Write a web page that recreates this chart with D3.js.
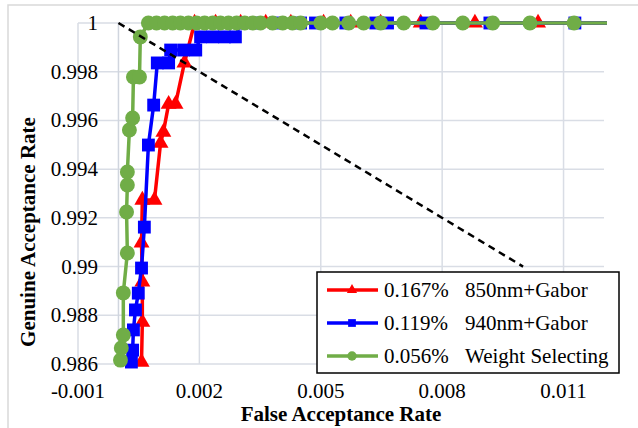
<html>
<head>
  <script src="https://d3js.org/d3.v7.min.js"></script>
  <meta charset="utf-8">
  <title>ROC</title>
<style>
body { margin: 0; background: #fff; }
svg { background: #fff; }
text { font-family: 'Liberation Serif', 'Times New Roman', Times, serif; }
</style>
</head>
<body>
<script>
var width = 638;
var height = 428;

// x ticks / y ticks
var xTicks = [-0.001, 0.002, 0.005, 0.008, 0.011];
var xTickLabels = ['-0.001', '0.002', '0.005', '0.008', '0.011'];
var yTicks = [0.986, 0.988, 0.99, 0.992, 0.994, 0.996, 0.998, 1];
var yTickLabels = ['0.986', '0.988', '0.99', '0.992', '0.994', '0.996', '0.998', '1'];

// 850nm+Gabor
var redFAR = [0.00057, 0.00059, 0.00059, 0.00057, 0.00059, 0.00089, 0.00104, 0.00111, 0.00124, 0.00141, 0.00163,
  0.00188, 0.0024, 0.00302, 0.00364, 0.00426, 0.00507, 0.00574, 0.00648, 0.00747, 0.00881, 0.01037, 1];
var redGAR = [0.98608, 0.98772, 0.98937, 0.99097, 0.99273, 0.99273, 0.99507, 0.99552, 0.99667, 0.99667, 0.99836,
  1, 1, 1, 1, 1, 1, 1, 1, 1, 1, 1, 1];

// 940nm+Gabor
var blueFAR = [0.00032, 0.00035, 0.00037, 0.00042, 0.00049, 0.00057, 0.00064, 0.00074, 0.00087, 0.00096, 0.00124,
  0.00129, 0.00161, 0.00191, 0.00203, 0.00233, 0.00262, 0.00289, 0.00302, 0.00339, 0.00388, 0.0045, 0.00487,
  0.00562, 0.00636, 0.00665, 0.0076, 0.00918, 0.01128, 1];
var blueGAR = [0.98608, 0.98657, 0.9874, 0.98822, 0.98891, 0.98994, 0.99162, 0.99499, 0.99663, 0.99836, 0.99836,
  0.99889, 0.99889, 0.99889, 0.99943, 0.99943, 0.99943, 0.99943, 1, 1, 1, 1, 1,
  1, 1, 1, 1, 1, 1, 1];

// Weight Selecting
var greenFAR = [0.00005, 0.00007, 0.00012, 0.00012, 0.00022, 0.0002, 0.00022, 0.00022, 0.00027, 0.00035, 0.00037,
  0.00052, 0.00054, 0.00074, 0.00094, 0.00114, 0.00134, 0.00153, 0.00173, 0.00193, 0.00213, 0.00233, 0.00252,
  0.00272, 0.00292, 0.00312, 0.00332, 0.00351, 0.00381, 0.00406, 0.0043, 0.0045, 0.005, 0.00529, 0.00569,
  0.00606, 0.00648, 0.00705, 0.00777, 0.00851, 0.00925, 0.01017, 0.01126, 1];
var greenGAR = [0.98616, 0.98666, 0.98719, 0.98892, 0.99056, 0.99224, 0.99335, 0.99388, 0.99561, 0.9961, 0.99778,
  0.99778, 0.99943, 1, 1, 1, 1, 1, 1, 1, 1, 1, 1,
  1, 1, 1, 1, 1, 1, 1, 1, 1, 1, 1, 1,
  1, 1, 1, 1, 1, 1, 1, 1, 1];

// equal error line
var eerFAR = [0, 0.01];
var eerGAR = [1, 0.99];

var seriesNames = ['0.167%', '0.119%', '0.056%'];
var seriesLabels = ['850nm+Gabor', '940nm+Gabor', 'Weight Selecting'];
var colors = ['#ff0000', '#0000ff', '#70ad47'];

var svg = d3.select('body').append('svg')
  .attr('width', width)
  .attr('height', height)
  .attr('font-family', "'Liberation Serif', 'Times New Roman', serif");

// chart border
svg.append('rect')
  .attr('x', 8).attr('y', 5)
  .attr('width', 700).attr('height', 500)
  .style('fill', 'none')
  .style('stroke', '#d9d9d9')
  .style('stroke-width', 1.5);

var x = d3.scaleLinear().domain([-0.001, 0.012]).range([78, 604]);
var y = d3.scaleLinear().domain([0.986, 1]).range([364, 23]);

var grid = svg.append('g');
grid.selectAll('line.h').data(yTicks).enter().append('line')
  .attr('x1', x(-0.001)).attr('x2', x(0.012))
  .attr('y1', function (d) { return y(d); })
  .attr('y2', function (d) { return y(d); })
  .style('stroke', '#d9dde5').style('stroke-width', 1.5);
grid.selectAll('line.v').data(xTicks).enter().append('line')
  .attr('x1', function (d) { return x(d); })
  .attr('x2', function (d) { return x(d); })
  .attr('y1', y(1)).attr('y2', y(0.986))
  .style('stroke', '#d9dde5').style('stroke-width', 1.5);
// vertical axis crosses at 0
grid.append('line')
  .attr('x1', x(0)).attr('x2', x(0))
  .attr('y1', y(1)).attr('y2', y(0.986))
  .style('stroke', '#d0d5de').style('stroke-width', 1.5);

// tick labels
svg.append('g').selectAll('text').data(yTicks).enter().append('text')
  .attr('x', 98)
  .attr('y', function (d) { return y(d) + 7; })
  .attr('text-anchor', 'end')
  .style('font-size', '21px')
  .text(function (d, i) { return yTickLabels[i]; });

svg.append('g').selectAll('text').data(xTicks).enter().append('text')
  .attr('x', function (d) { return x(d); })
  .attr('y', 398)
  .attr('text-anchor', 'middle')
  .style('font-size', '21px')
  .text(function (d, i) { return xTickLabels[i]; });

// axis titles
svg.append('text')
  .attr('x', x(0.0055)).attr('y', 421)
  .attr('text-anchor', 'middle')
  .style('font-size', '21px').style('font-weight', 'bold')
  .text('False Acceptance Rate');

svg.append('text')
  .attr('transform', 'translate(35,232) rotate(-90)')
  .attr('text-anchor', 'middle')
  .style('font-size', '21px').style('font-weight', 'bold')
  .text('Genuine Acceptance Rate');

// clip to plot area
svg.append('clipPath').attr('id', 'plot')
  .append('rect')
  .attr('x', x(-0.001)).attr('y', y(1) - 10)
  .attr('width', x(0.012) - x(-0.001) + 3)
  .attr('height', y(0.986) - y(1) + 20);

var plot = svg.append('g').attr('clip-path', 'url(#plot)');

var line = d3.line()
  .x(function (d) { return x(d[0]); })
  .y(function (d) { return y(d[1]); });

var allFAR = [redFAR, blueFAR, greenFAR];
var allGAR = [redGAR, blueGAR, greenGAR];
var symbols = [d3.symbolTriangle, d3.symbolSquare, d3.symbolCircle];
var symSizes = [110, 165, 175];

allFAR.forEach(function (far, s) {
  var pts = far.map(function (v, i) { return [v, allGAR[s][i]]; });
  plot.append('path')
    .attr('d', line(pts))
    .style('fill', 'none')
    .style('stroke', colors[s])
    .style('stroke-width', 3.5)
    .style('stroke-linejoin', 'round');
  plot.selectAll('path.m' + s).data(pts.filter(function (p) { return p[0] <= 0.012; }))
    .enter().append('path')
    .attr('transform', function (d) { return 'translate(' + x(d[0]) + ',' + y(d[1]) + ')'; })
    .attr('d', d3.symbol().type(symbols[s]).size(symSizes[s]))
    .style('fill', colors[s]);
});

// EER dashed line
svg.append('path')
  .attr('d', line(eerFAR.map(function (v, i) { return [v, eerGAR[i]]; })))
  .style('fill', 'none')
  .style('stroke', '#000')
  .style('stroke-width', 2.5)
  .style('stroke-dasharray', '7,5');

// legend
var legend = svg.append('g');
legend.append('rect')
  .attr('x', 317).attr('y', 272)
  .attr('width', 302).attr('height', 101)
  .style('fill', '#fff')
  .style('stroke', '#000')
  .style('stroke-width', 1.5);

var legendSizes = [45, 60, 70];
seriesNames.forEach(function (name, i) {
  var cy = 290 + i * 33;
  legend.append('line')
    .attr('x1', 327).attr('x2', 378)
    .attr('y1', cy).attr('y2', cy)
    .style('stroke', colors[i]).style('stroke-width', 3.5);
  legend.append('path')
    .attr('transform', 'translate(352,' + cy + ')')
    .attr('d', d3.symbol().type(symbols[i]).size(legendSizes[i]))
    .style('fill', colors[i]);
  legend.append('text')
    .attr('x', 384).attr('y', cy + 7)
    .style('font-size', '21px')
    .text(name);
  legend.append('text')
    .attr('x', 465).attr('y', cy + 7)
    .style('font-size', '21px')
    .text(seriesLabels[i]);
});
</script>
</body>
</html>
